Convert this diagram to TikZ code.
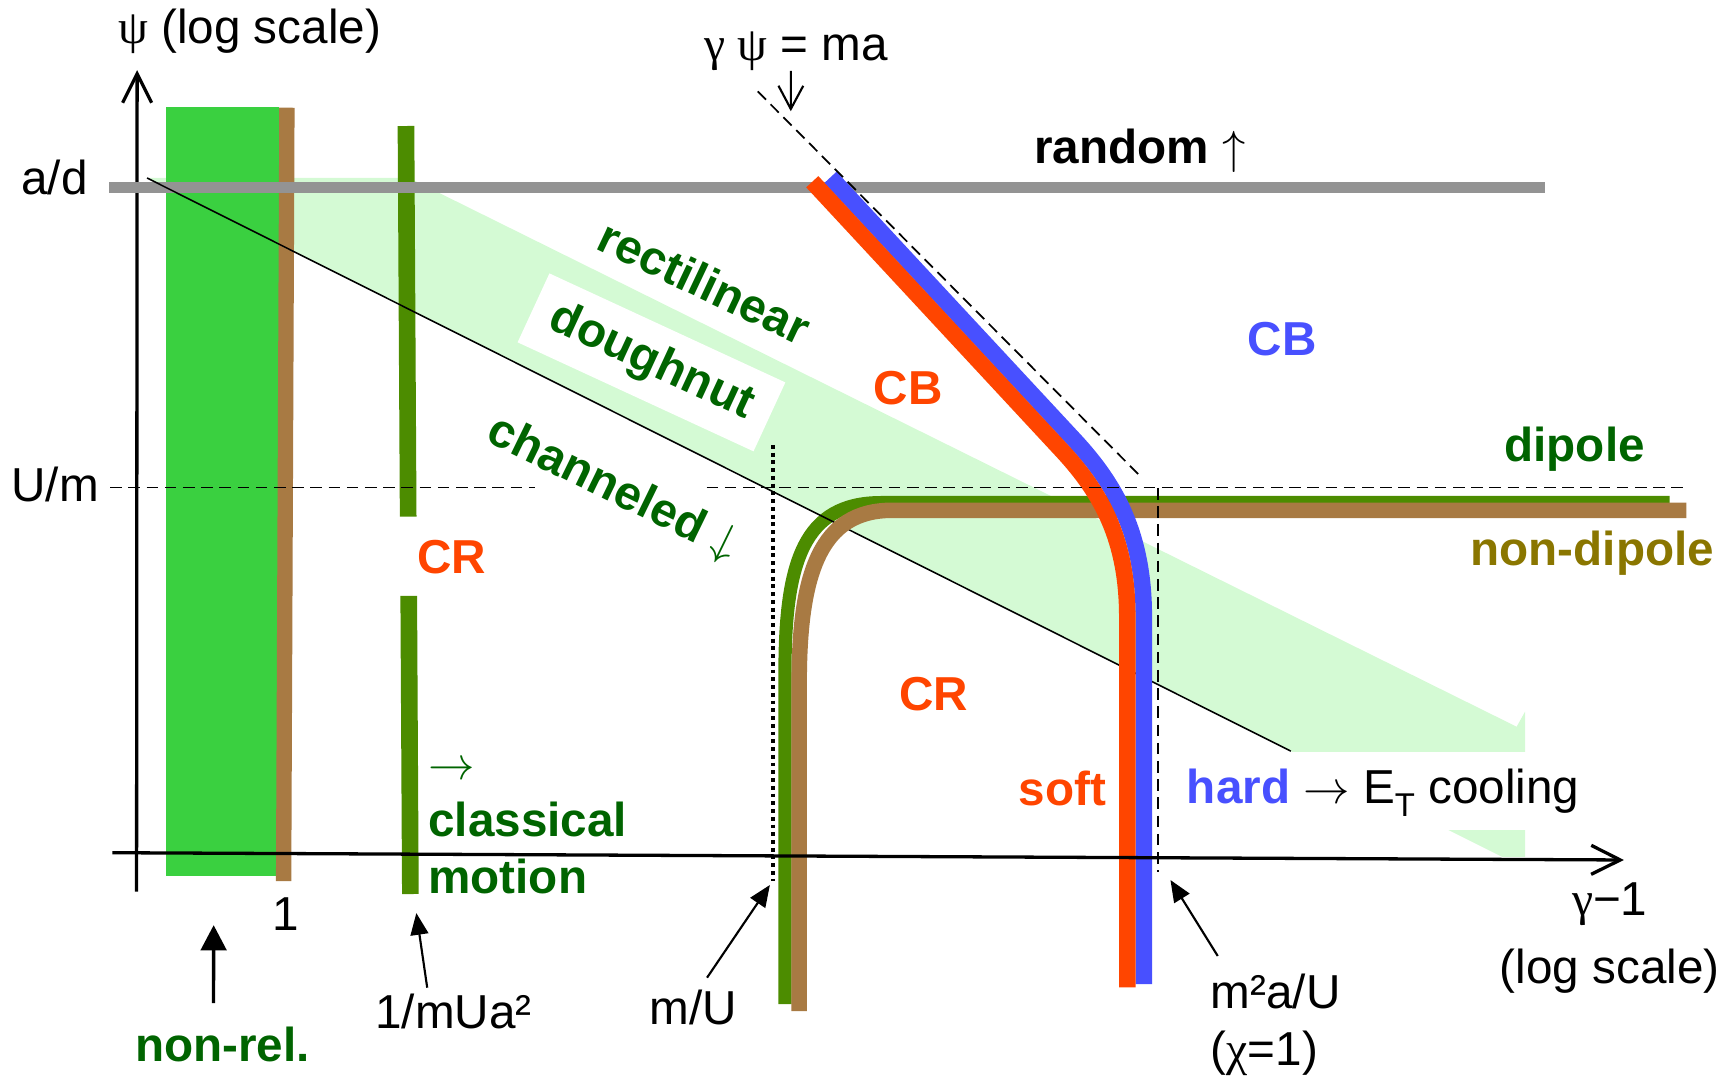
\documentclass[tikz,border=0pt]{standalone}
\usepackage{fontspec}
\setmainfont{Liberation Sans}
\newfontfamily\grk{Liberation Serif}
\usetikzlibrary{arrows.meta}
\definecolor{bandgreen}{RGB}{212,250,212}
\definecolor{nrgreen}{RGB}{58,208,64}
\definecolor{brn}{RGB}{168,122,67}
\definecolor{olv}{RGB}{76,140,0}
\definecolor{gry}{RGB}{147,147,147}
\definecolor{orng}{RGB}{255,69,0}
\definecolor{blu}{RGB}{72,80,255}
\definecolor{dkgreen}{RGB}{0,100,0}
\definecolor{olivetext}{RGB}{138,118,0}
\begin{document}
\begin{tikzpicture}[x=0.01cm, y=-0.01cm,
  every node/.style={font=\fontsize{12.3}{14.65}\selectfont, inner sep=0pt},
  bf/.style={font=\fontsize{12.3}{14.65}\selectfont\bfseries},
  tip/.style={-{Triangle[length=5.6pt,width=4.6pt]}, line width=0.55pt},
  axis/.style={-{Straight Barb[length=7.5pt,width=7.5pt]}, line width=0.85pt},
  dsh/.style={line width=0.45pt, dash pattern=on 3pt off 1.7pt}]
\useasboundingbox (0,0) rectangle (1568,981);
\fill[bandgreen] (133.5,161.6) -- (371.4,161.6) -- (1377,659.8) -- (1384.6,646.2)
  -- (1384.6,778) -- (1363.8,778) -- cycle;
\node[bf, text=dkgreen, fill=white, rotate=-24.8, minimum width=67.1pt, minimum height=19.6pt] (dough) at (591.5,329) {doughnut};
\fill[nrgreen] (151,97) rectangle (253,795);
\draw[brn, line width=3.96pt] (260.5,97.8) -- (257.5,800);
\draw[olv, line width=4.3pt] (368.6,114.4) -- (370.6,469) (371.1,541) -- (372.6,811.7);
\draw[axis] (124,809.6) -- (124.5,63.6);
\draw[gry, line width=3pt] (99,170.2) -- (1403,170.2);
\draw[olv, line width=3.4pt] (712.7,911.6) -- (712.7,610) .. controls (712.7,510) and (730,456.3) .. (800,456.3) -- (1516,456.3);
\draw[line width=0.4pt] (133.5,161.6) -- (1172,682);
\draw[brn, line width=4pt] (725.6,918) -- (725.6,620) .. controls (725.6,520) and (745,463.3) .. (810,463.3) -- (1531,463.3);
\draw[blu, line width=4.27pt] (754,161) -- (976,400) .. controls (1013,440) and (1038.5,485) .. (1038.5,560) -- (1038.5,893.5);
\draw[orng, line width=4.27pt] (737.5,165) -- (965,410) .. controls (1000,448) and (1023.5,490) .. (1023.5,560) -- (1023.5,896.5);
\draw[dsh] (100,442.5) -- (485.8,442.5) (641.6,442.5) -- (1531,442.5);
\draw[dsh] (688,83) -- (1037,434);
\draw[dsh] (1051.7,443) -- (1051.7,792);
\draw[line width=1pt, dash pattern=on 1pt off 1pt] (702.1,404) -- (702.1,800);
\draw[axis] (102,774.2) -- (1474.4,780.8);
\node[anchor=base] (ylab) at (226.7,39.3) {{\grk ψ} (log scale)};
\node[anchor=base] (lad) at (49.5,177) {a/d};
\node[anchor=base] (lum) at (50,455.5) {U/m};
\node[anchor=base] (lma) at (723,54.5) {{\grk γ ψ} = ma};
\node[bf, anchor=base] (lrand) at (1035,148) {random $\uparrow$};
\node[bf, text=dkgreen, rotate=-25.3] (lrect) at (640,256) {rectilinear};
\node[bf, text=dkgreen, rotate=-26] (lchan) at (556,444) {channeled $\downarrow$};
\node[bf, text=orng] (lcbr) at (824.7,352.6) {CB};
\node[bf, text=blu] (lcbb) at (1164,307.5) {CB};
\node[bf, text=dkgreen, anchor=base] (ldip) at (1429.6,419.2) {dipole};
\node[bf, text=olivetext, anchor=base] (lnondip) at (1445.7,513) {non-dipole};
\node[bf, text=orng] (lcra) at (410,506) {CR};
\node[bf, text=orng] (lcrb) at (848,630) {CR};
\node[bf, text=orng, anchor=base] (lsoft) at (964.7,731) {soft};
\node[anchor=base west, fill=white, inner xsep=3.4pt, inner ysep=4.2pt, text height=9pt, text depth=2.6pt] (lhard) at (1065,729.4)
  {{\color{blu}\bfseries hard} $\rightarrow$ E\raisebox{-3.4pt}{\fontsize{8.5}{8.5}\selectfont T} cooling};
\node[bf, text=dkgreen, anchor=base west, align=left] (lclass) at (388.2,811.1) {$\rightarrow$\\classical\\motion};
\node[anchor=base] (lone) at (259,844.4) {1};
\node[bf, text=dkgreen, anchor=base] (lnonrel) at (202,964) {non-rel.};
\node[anchor=base] (lmua) at (411.8,933.7) {1/mUa²};
\node[anchor=base] (lmu) at (629.3,930.6) {m/U};
\node[anchor=base west, align=left] (lchi) at (1098.6,967) {m²a/U\\({\grk χ}=1)};
\node[anchor=base, align=center] (lgam) at (1461.5,892.6) {{\grk γ}−1\\[2.9pt](log scale)};
\coordinate (tipnr) at (194,840);
\coordinate (tipmua) at (378,829);
\coordinate (tipmu) at (699,803.5);
\coordinate (tipchi) at (1062.7,799);
\coordinate (tipma) at (718,101);
\draw[line width=0.85pt, -{Triangle[length=6.5pt,width=6.6pt]}] ([xshift=-2.3pt,yshift=6pt]lnonrel.north) -- (tipnr);
\draw[tip] ([xshift=-6.8pt,yshift=1.4pt]lmua.north) -- (tipmua);
\draw[tip] ([xshift=3.6pt,yshift=3.1pt]lmu.north) -- (tipmu);
\draw[tip] ([xshift=2pt,yshift=4.4pt]lchi.north west) -- (tipchi);
\draw[line width=0.55pt, -{Straight Barb[length=6pt,width=6.4pt]}] ([xshift=-1.4pt]lma.south) -- (tipma);
\end{tikzpicture}
\end{document}
